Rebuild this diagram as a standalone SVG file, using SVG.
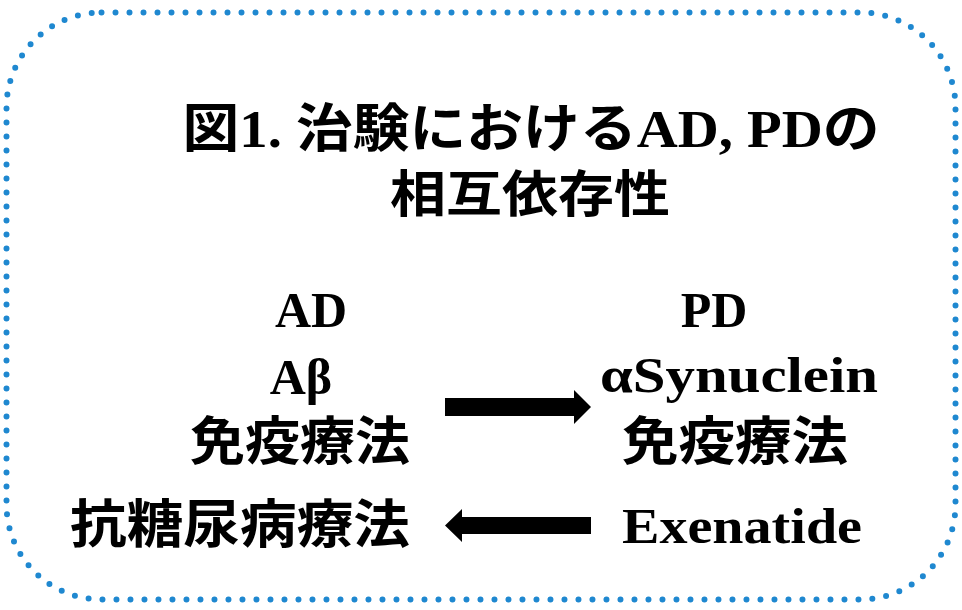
<svg xmlns="http://www.w3.org/2000/svg" width="962" height="610" viewBox="0 0 962 610">
<style>
.t{font-family:"Liberation Serif","Noto Sans CJK JP",serif;font-weight:bold;fill:#000;text-anchor:middle}
.j{font-family:"Noto Sans CJK JP","Liberation Serif",sans-serif;font-weight:bold;fill:#000;text-anchor:middle}
</style>
<rect width="962" height="610" fill="#fff"/>
<rect x="6.5" y="12.5" width="949" height="587" rx="95" ry="95" fill="none" stroke="#1f88d0" stroke-width="6" stroke-linecap="round" stroke-dasharray="0 14"/>
<g id="title">
<text class="t" x="531" y="147" font-size="52" textLength="697" lengthAdjust="spacingAndGlyphs">図1. 治験におけるAD, PDの</text>
<text class="j" x="530" y="212" font-size="50" textLength="280" lengthAdjust="spacingAndGlyphs">相互依存性</text>
</g>
<g id="ad">
<text class="t" x="311" y="327" font-size="50">AD</text>
<text class="t" x="301" y="394" font-size="50">Aβ</text>
<text class="j" x="300" y="460" font-size="52" textLength="220" lengthAdjust="spacingAndGlyphs">免疫療法</text>
</g>
<g id="ad-drug">
<text class="j" x="240" y="543" font-size="52" textLength="340" lengthAdjust="spacingAndGlyphs">抗糖尿病療法</text>
</g>
<g id="pd">
<text class="t" x="714" y="327" font-size="50">PD</text>
<text class="t" x="739" y="392" font-size="50" textLength="278" lengthAdjust="spacingAndGlyphs">αSynuclein</text>
<text class="j" x="735" y="460" font-size="52" textLength="226" lengthAdjust="spacingAndGlyphs">免疫療法</text>
</g>
<g id="pd-drug">
<text class="t" x="742" y="543" font-size="50" textLength="240" lengthAdjust="spacingAndGlyphs">Exenatide</text>
</g>
<g id="connectors" fill="#000">
<polygon points="445,398 574,398 574,390 591,407 574,424 574,416 445,416"/>
<polygon points="591,517 462,517 462,509 445,525.5 462,542 462,534 591,534"/>
</g>
</svg>
